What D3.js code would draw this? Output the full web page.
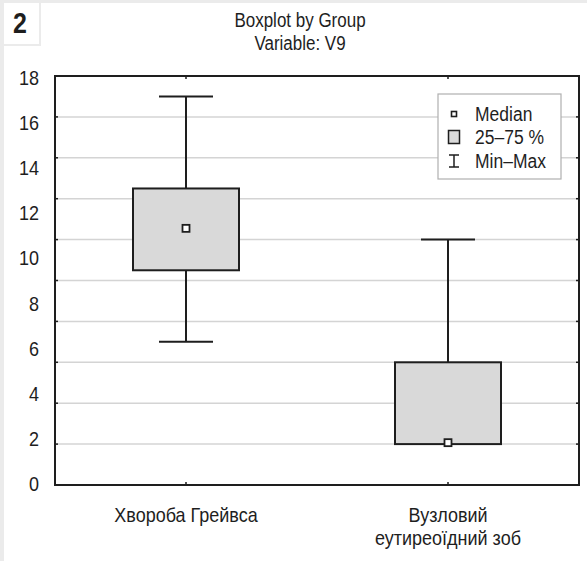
<!DOCTYPE html>
<html>
<head>
<meta charset="utf-8">
<script src="https://cdn.jsdelivr.net/npm/d3@7"></script>
<style>
  html, body { margin: 0; padding: 0; background: #ebebeb; }
  svg { display: block; }
</style>
</head>
<body>
<script>
// data
var groups   = ["Хвороба Грейвса", ["Вузловий", "еутиреоїдний зоб"]];
var groupKey = ["g1", "g2"];
var mins     = [7, 2];
var q1s      = [10.5, 2];
var medians  = [12.55, 2.07];
var q3s      = [14.5, 6];
var maxs     = [19, 12];
var gridVals = [2, 4, 6, 8, 10, 12, 14, 16, 18];
var tickLabels = [0, 2, 4, 6, 8, 10, 12, 14, 16, 18];
var legendItems = ["Median", "25–75 %", "Min–Max"];

var W = 587, H = 561;
var FONT = "'Liberation Sans', Arial, sans-serif",
    INK = "#1e1e1e",
    STRETCH = 1.15;   // source text is a bit taller than plain Arial

var svg = d3.select("body").append("svg")
  .attr("width", W).attr("height", H);

// panel + number badge
svg.append("rect").attr("x", 4).attr("y", 3).attr("width", W - 4).attr("height", H - 3).attr("fill", "#fff");
svg.append("rect").attr("x", 4).attr("y", 3).attr("width", 37).attr("height", 43).attr("fill", "#ebebeb");
svg.append("rect").attr("x", 4).attr("y", 3).attr("width", 35).attr("height", 41).attr("fill", "#fff");

function txt(g, x, y, s, size, anchor, weight) {
  return g.append("text")
    .attr("transform", "translate(" + x + "," + y + ") scale(1," + STRETCH + ")")
    .attr("text-anchor", anchor || "middle")
    .attr("font-family", FONT)
    .attr("font-size", size)
    .attr("font-weight", weight || "normal")
    .attr("fill", INK)
    .text(s);
}

txt(svg, 20, 33, "2", 25, "middle", "bold");
txt(svg, 300, 27, "Boxplot by Group", 17);
txt(svg, 300, 50, "Variable: V9", 17);

var pLeft = 55, pRight = 579, pTop = 76, pBottom = 485;

var x = d3.scaleBand().domain(groupKey).range([pLeft, pRight]).padding(0);
var y = d3.scaleLinear().domain([0, 20]).range([pBottom, pTop]);
// tick labels are spread evenly 0..18 over the full height in the source
var yLab = d3.scaleLinear().domain([0, 18]).range([pBottom + 6, pTop + 9]);

var plot = svg.append("g");

// grid
plot.selectAll("line.grid").data(gridVals).enter().append("line")
  .attr("class", "grid")
  .attr("x1", pLeft).attr("x2", pRight)
  .attr("y1", function(d) { return y(d); })
  .attr("y2", function(d) { return y(d); })
  .attr("stroke", "#d4d4d4").attr("stroke-width", 1.5);

// inward ticks on left and right
plot.selectAll("line.tl").data(gridVals).enter().append("line")
  .attr("x1", pLeft).attr("x2", pLeft + 3)
  .attr("y1", function(d) { return y(d); }).attr("y2", function(d) { return y(d); })
  .attr("stroke", INK).attr("stroke-width", 1.5);
plot.selectAll("line.tr").data(gridVals).enter().append("line")
  .attr("x1", pRight).attr("x2", pRight - 3)
  .attr("y1", function(d) { return y(d); }).attr("y2", function(d) { return y(d); })
  .attr("stroke", INK).attr("stroke-width", 1.5);
// ticks at category centres, top and bottom
plot.selectAll("line.tb").data(groupKey).enter().append("line")
  .attr("x1", function(d) { return x(d) + x.bandwidth() / 2; })
  .attr("x2", function(d) { return x(d) + x.bandwidth() / 2; })
  .attr("y1", pBottom).attr("y2", pBottom - 3)
  .attr("stroke", INK).attr("stroke-width", 1.5);
plot.selectAll("line.tt").data(groupKey).enter().append("line")
  .attr("x1", function(d) { return x(d) + x.bandwidth() / 2; })
  .attr("x2", function(d) { return x(d) + x.bandwidth() / 2; })
  .attr("y1", pTop).attr("y2", pTop + 3)
  .attr("stroke", INK).attr("stroke-width", 1.5);

// y labels
tickLabels.forEach(function(v) {
  txt(svg, 39, yLab(v), String(v), 18, "end");
});

// category labels
groups.forEach(function(g, i) {
  var cx = x(groupKey[i]) + x.bandwidth() / 2;
  var lines = Array.isArray(g) ? g : [g];
  lines.forEach(function(s, j) {
    txt(svg, cx, 522 + j * 23, s, 18);
  });
});

// boxes
var boxW = 106, capW = 54;
groupKey.forEach(function(k, i) {
  var cx = x(k) + x.bandwidth() / 2;
  var g = plot.append("g");
  g.append("line")
    .attr("x1", cx).attr("x2", cx).attr("y1", y(maxs[i])).attr("y2", y(mins[i]))
    .attr("stroke", INK).attr("stroke-width", 2);
  [mins[i], maxs[i]].forEach(function(v) {
    g.append("line")
      .attr("x1", cx - capW / 2).attr("x2", cx + capW / 2)
      .attr("y1", y(v)).attr("y2", y(v))
      .attr("stroke", INK).attr("stroke-width", 2);
  });
  g.append("rect")
    .attr("x", cx - boxW / 2).attr("width", boxW)
    .attr("y", y(q3s[i])).attr("height", y(q1s[i]) - y(q3s[i]))
    .attr("fill", "#d9d9d9").attr("stroke", INK).attr("stroke-width", 2);
  g.append("rect")
    .attr("x", cx - 3.5).attr("y", y(medians[i]) - 3.5)
    .attr("width", 7).attr("height", 7)
    .attr("fill", "#fff").attr("stroke", INK).attr("stroke-width", 1.8);
});

// frame
plot.append("rect")
  .attr("x", pLeft).attr("y", pTop).attr("width", pRight - pLeft).attr("height", pBottom - pTop)
  .attr("fill", "none").attr("stroke", INK).attr("stroke-width", 2);

// legend
var lg = svg.append("g").attr("transform", "translate(438,94)");
lg.append("rect").attr("width", 123).attr("height", 85)
  .attr("fill", "#fff").attr("stroke", "#b0b0b0").attr("stroke-width", 1.2);
var iconX = 16, rowY = [20, 43, 67];
lg.append("rect").attr("x", iconX - 2.5).attr("y", rowY[0] - 2.5).attr("width", 5).attr("height", 5)
  .attr("fill", "#fff").attr("stroke", INK).attr("stroke-width", 1.6);
lg.append("rect").attr("x", iconX - 5.5).attr("y", rowY[1] - 6.5).attr("width", 11).attr("height", 13)
  .attr("fill", "#d9d9d9").attr("stroke", INK).attr("stroke-width", 1.5);
var ib = lg.append("g").attr("stroke", INK).attr("stroke-width", 1.5);
ib.append("line").attr("x1", iconX).attr("x2", iconX).attr("y1", rowY[2] - 6).attr("y2", rowY[2] + 6);
ib.append("line").attr("x1", iconX - 5).attr("x2", iconX + 5).attr("y1", rowY[2] - 6).attr("y2", rowY[2] - 6);
ib.append("line").attr("x1", iconX - 5).attr("x2", iconX + 5).attr("y1", rowY[2] + 6).attr("y2", rowY[2] + 6);
legendItems.forEach(function(s, i) {
  txt(lg, 37, rowY[i] + 7, s, 17.5, "start");
});
</script>
</body>
</html>
